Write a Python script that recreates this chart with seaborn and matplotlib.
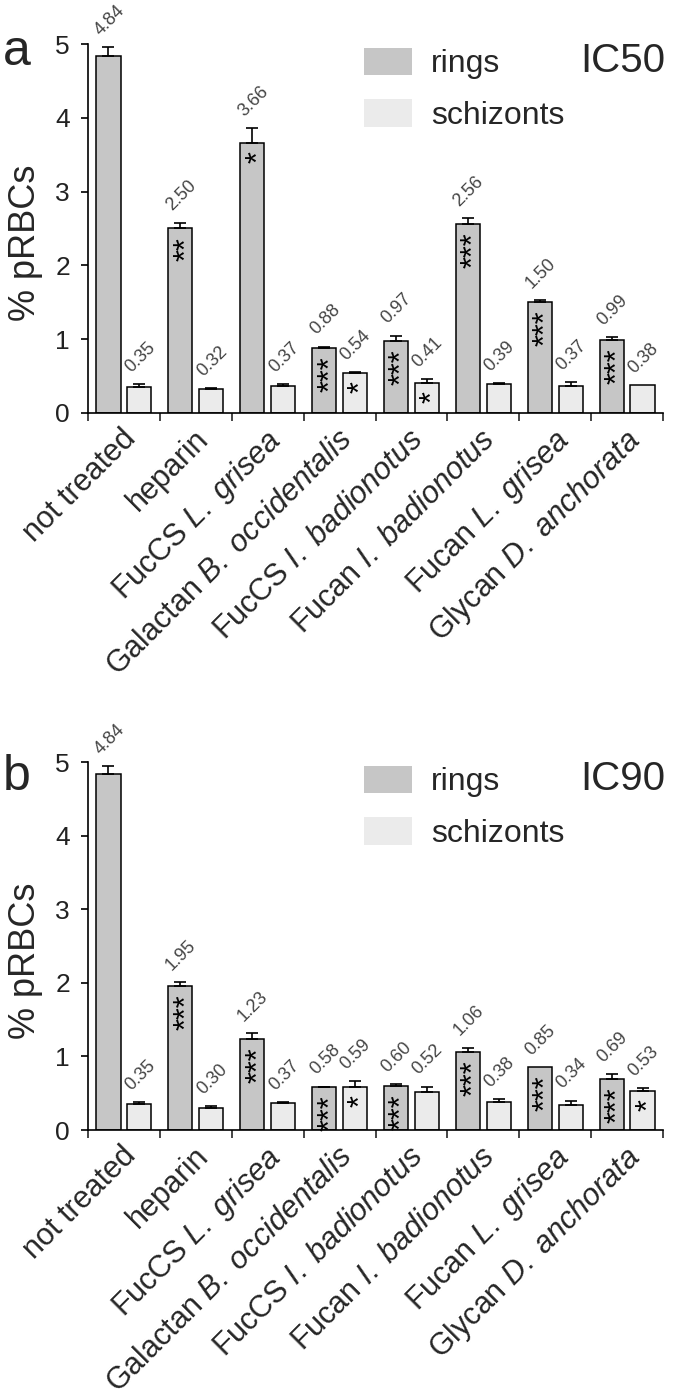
# Grouped bar chart: % pRBCs for rings / schizonts, IC50 and IC90 panels
import matplotlib
matplotlib.use('Agg')
import pandas as pd
import matplotlib.pyplot as plt
import seaborn as sns
from matplotlib.patches import Patch
import matplotlib.transforms as mtransforms

# data
categories = ["not treated", "heparin", "FucCS L. grisea", "Galactan B. occidentalis",
              "FucCS I. badionotus", "Fucan I. badionotus", "Fucan L. grisea", "Glycan D. anchorata"]
tick_labels = ["not treated", "heparin", r"FucCS $\mathit{L.\ grisea}$",
               r"Galactan $\mathit{B.\ occidentalis}$", r"FucCS $\mathit{I.\ badionotus}$",
               r"Fucan $\mathit{I.\ badionotus}$", r"Fucan $\mathit{L.\ grisea}$",
               r"Glycan $\mathit{D.\ anchorata}$"]
stages = ["rings", "schizonts"]

ic50_rings = [4.84, 2.50, 3.66, 0.88, 0.97, 2.56, 1.50, 0.99]
ic50_rings_err = [0.12, 0.08, 0.20, 0.02, 0.08, 0.08, 0.03, 0.04]
ic50_schiz = [0.35, 0.32, 0.37, 0.54, 0.41, 0.39, 0.37, 0.38]
ic50_schiz_err = [0.045, 0.02, 0.02, 0.02, 0.045, 0.02, 0.045, 0.0]
ic50_rings_sig = ["", "**", "*", "***", "***", "***", "***", "***"]
ic50_schiz_sig = ["", "", "", "*", "*", "", "", ""]

ic90_rings = [4.84, 1.95, 1.23, 0.58, 0.60, 1.06, 0.85, 0.69]
ic90_rings_err = [0.10, 0.055, 0.09, 0.01, 0.03, 0.06, 0.0, 0.07]
ic90_schiz = [0.35, 0.30, 0.37, 0.59, 0.52, 0.38, 0.34, 0.53]
ic90_schiz_err = [0.035, 0.03, 0.015, 0.08, 0.07, 0.045, 0.06, 0.035]
ic90_rings_sig = ["", "***", "***", "***", "***", "***", "***", "***"]
ic90_schiz_sig = ["", "", "", "*", "", "", "", "*"]

colors = {"rings": "#c6c6c6", "schizonts": "#ebebeb"}

sns.set_style("ticks")
plt.rcParams['font.family'] = ['Liberation Sans', 'DejaVu Sans']
plt.rcParams['mathtext.fontset'] = 'custom'
plt.rcParams['mathtext.rm'] = 'Liberation Sans'
plt.rcParams['mathtext.it'] = 'Liberation Sans:italic'


def panel(ax, rings, rings_err, schiz, schiz_err, rings_sig, schiz_sig, tag):
    df = pd.DataFrame({
        "treatment": categories * 2,
        "stage": ["rings"] * 8 + ["schizonts"] * 8,
        "value": rings + schiz,
    })
    sns.barplot(data=df, x="treatment", y="value", hue="stage", order=categories,
                hue_order=stages, palette=colors, edgecolor="black", linewidth=1.1,
                width=0.86, gap=0.22, errorbar=None, legend=False, ax=ax)

    errs = [rings_err, schiz_err]
    sigs = [rings_sig, schiz_sig]
    bar_conts = list(ax.containers)
    for k, cont in enumerate(bar_conts):
        for i, bar in enumerate(cont.patches):
            x = bar.get_x() + bar.get_width() / 2
            h = bar.get_height()
            e = errs[k][i]
            if e > 0:
                ax.errorbar(x, h, yerr=[[0], [e]], fmt='none', ecolor='black',
                            elinewidth=1.2, capsize=4, capthick=1.2, zorder=3)
            ax.annotate(f"{h:.2f}", xy=(x, h + e), xytext=(-6, 8), textcoords='offset points',
                        rotation=45, rotation_mode='anchor', ha='left', va='baseline',
                        fontsize=13, color='#454545', annotation_clip=False)
            if sigs[k][i]:
                ax.annotate(sigs[k][i], xy=(x, h), xytext=(5, -6), textcoords='offset points',
                            rotation=90, ha='center', va='top', fontsize=22, color='black')

    ax.set_xlim(-0.5, 7.5)
    ax.set_ylim(0, 5)
    ax.set_yticks([0, 1, 2, 3, 4, 5])
    ax.set_xticks(range(8))
    ax.set_xticks([i - 0.5 for i in range(9)], minor=True)
    ax.set_xticklabels(tick_labels, rotation=45, ha='right', va='top', rotation_mode='anchor')
    ax.tick_params(axis='x', which='major', length=0, labelsize=22, pad=0)
    ax.tick_params(axis='x', which='minor', length=6, width=1.2, direction='out')
    ax.tick_params(axis='y', length=5, width=1.2, direction='out', labelsize=19, pad=8,
                   colors='black', labelcolor='#222222')
    offset = mtransforms.ScaledTranslation(-2 / 72, -8 / 72, ax.figure.dpi_scale_trans)
    for lab in ax.get_xticklabels():
        lab.set_transform(lab.get_transform() + offset)
    for s in ["left", "bottom"]:
        ax.spines[s].set_linewidth(1.2)
        ax.spines[s].set_color('black')
    sns.despine(ax=ax)
    ax.set_xlabel("")
    ax.set_ylabel("% pRBCs", fontsize=26)
    ax.yaxis.set_label_coords(-0.078, 0.46)

    handles = [Patch(facecolor=colors[s], edgecolor='none') for s in stages]
    ax.legend(handles, stages, loc='upper left', bbox_to_anchor=(0.48, 0.99), frameon=False,
              fontsize=23, handlelength=1.5, handleheight=0.95, handletextpad=0.6,
              labelspacing=0.62, borderpad=0, borderaxespad=0)
    ax.text(1.005, 0.924, tag, transform=ax.transAxes, ha='right', va='baseline', fontsize=29)


fig = plt.figure(figsize=(6.75, 14), dpi=100)
ax_a = fig.add_axes([88 / 675, 1 - 413 / 1400, 575 / 675, 369 / 1400])
ax_b = fig.add_axes([88 / 675, 1 - 1130 / 1400, 575 / 675, 368 / 1400])

panel(ax_a, ic50_rings, ic50_rings_err, ic50_schiz, ic50_schiz_err, ic50_rings_sig, ic50_schiz_sig, "IC50")
panel(ax_b, ic90_rings, ic90_rings_err, ic90_schiz, ic90_schiz_err, ic90_rings_sig, ic90_schiz_sig, "IC90")

fig.text(0.004, 1 - 65 / 1400, "a", fontsize=36, ha='left', va='baseline')
fig.text(0.004, 1 - 790 / 1400, "b", fontsize=36, ha='left', va='baseline')

fig.savefig("out.png", dpi=100)
